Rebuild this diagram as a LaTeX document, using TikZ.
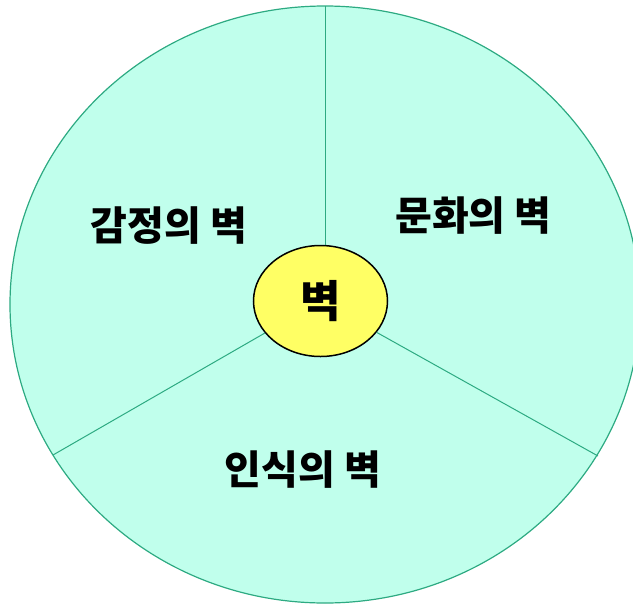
\documentclass[tikz,border=0pt]{standalone}
\usepackage{fontspec}
\newfontfamily\kr{Noto Sans CJK KR}
\usepackage{xcolor}
\usetikzlibrary{shapes.geometric}

\definecolor{wallfill}{RGB}{192,255,236}
\definecolor{wallline}{RGB}{45,170,130}
\definecolor{corefill}{RGB}{255,255,100}

\begin{document}
\begin{tikzpicture}[x=1pt,y=-1pt,
    wall/.style={font=\kr\bfseries\fontsize{40}{40}\selectfont, inner sep=0pt},
    divider/.style={draw=wallline, line width=1pt}]
    \useasboundingbox (0,0) rectangle (633,606);
    \clip (0,0) rectangle (633,606);

    % outer wall
    \draw[fill=wallfill, draw=wallline, line width=1.2pt] (325,304.5) ellipse [x radius=315, y radius=298.5];
    \coordinate (top) at (325,6);
    \coordinate (left) at (53,455);
    \coordinate (right) at (598,456);

    \node (core) [ellipse, draw, line width=1.5pt, fill=corefill, minimum width=134pt, minimum height=111pt, inner sep=0pt] at (320.5,301) {};
    \draw[divider] (top) -- (top |- core.north);
    \draw[divider] (core) -- (left);
    \draw[divider] (core) -- (right);
    \node (wall) [wall, font=\kr\bfseries\fontsize{44}{44}\selectfont] at (core) {벽};

    \node (emotion) [wall] at (169,226) {감정의 벽};
    \node (culture) [wall] at (473.5,216) {문화의 벽};
    \node (cognition) [wall] at (303,470) {인식의 벽};
\end{tikzpicture}
\end{document}
